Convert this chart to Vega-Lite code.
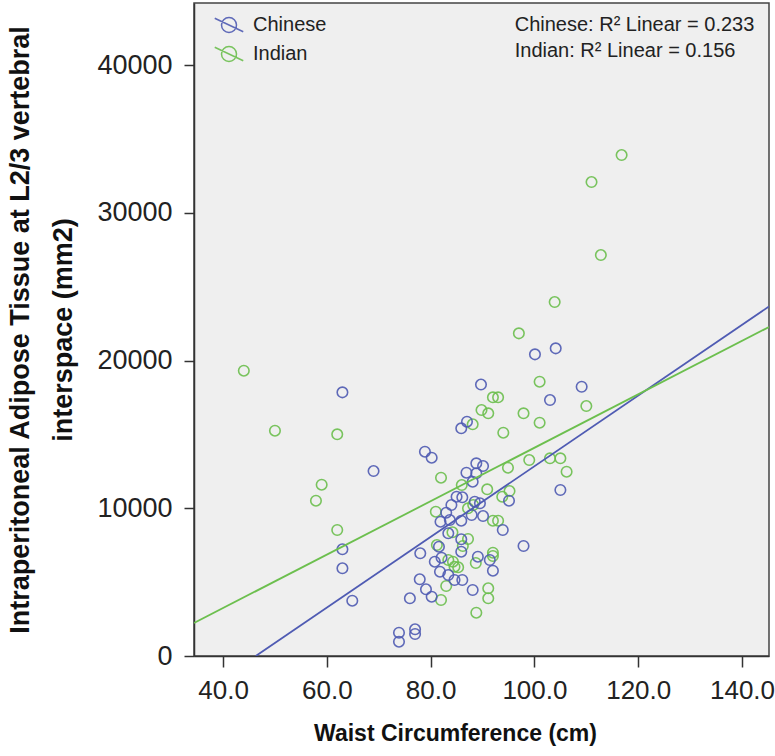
{
  "$schema": "https://vega.github.io/schema/vega-lite/v6.json",
  "autosize": {"type": "none"},
  "width": 575,
  "height": 653,
  "padding": {"left": 194, "top": 3, "right": 6, "bottom": 100},
  "background": "white",
  "config": {
    "font": "Liberation Sans",
    "view": {"fill": "#efefef", "stroke": "#444444", "strokeWidth": 1.5},
    "axis": {"grid": false, "domainColor": "#333333", "tickColor": "#333333", "domainWidth": 1.5, "tickWidth": 1.5, "labelColor": "#222222", "titleColor": "#111111", "labelFont": "Liberation Sans", "titleFont": "Liberation Sans"}
  },
  "datasets": {
    "points": [
      {"group": "Indian", "waist": 44.0, "iat": 19310},
      {"group": "Indian", "waist": 50.0, "iat": 15249},
      {"group": "Indian", "waist": 62.0, "iat": 15005},
      {"group": "Indian", "waist": 59.0, "iat": 11594},
      {"group": "Indian", "waist": 57.9, "iat": 10511},
      {"group": "Indian", "waist": 62.0, "iat": 8528},
      {"group": "Indian", "waist": 82.0, "iat": 12067},
      {"group": "Indian", "waist": 86.0, "iat": 11573},
      {"group": "Indian", "waist": 88.1, "iat": 15682},
      {"group": "Indian", "waist": 89.8, "iat": 16649},
      {"group": "Indian", "waist": 91.1, "iat": 16426},
      {"group": "Indian", "waist": 81.0, "iat": 9766},
      {"group": "Indian", "waist": 84.2, "iat": 8372},
      {"group": "Indian", "waist": 87.2, "iat": 7919},
      {"group": "Indian", "waist": 81.2, "iat": 7512},
      {"group": "Indian", "waist": 83.0, "iat": 4738},
      {"group": "Indian", "waist": 82.0, "iat": 3790},
      {"group": "Indian", "waist": 88.8, "iat": 2931},
      {"group": "Indian", "waist": 88.7, "iat": 6294},
      {"group": "Indian", "waist": 97.0, "iat": 21840},
      {"group": "Indian", "waist": 101.0, "iat": 18565},
      {"group": "Indian", "waist": 92.0, "iat": 17509},
      {"group": "Indian", "waist": 93.0, "iat": 17509},
      {"group": "Indian", "waist": 97.9, "iat": 16426},
      {"group": "Indian", "waist": 101.0, "iat": 15790},
      {"group": "Indian", "waist": 94.0, "iat": 15113},
      {"group": "Indian", "waist": 110.0, "iat": 16920},
      {"group": "Indian", "waist": 94.9, "iat": 12744},
      {"group": "Indian", "waist": 99.0, "iat": 13265},
      {"group": "Indian", "waist": 103.0, "iat": 13380},
      {"group": "Indian", "waist": 105.0, "iat": 13380},
      {"group": "Indian", "waist": 106.2, "iat": 12473},
      {"group": "Indian", "waist": 90.9, "iat": 11282},
      {"group": "Indian", "waist": 95.2, "iat": 11167},
      {"group": "Indian", "waist": 93.8, "iat": 10782},
      {"group": "Indian", "waist": 87.2, "iat": 9996},
      {"group": "Indian", "waist": 88.2, "iat": 10220},
      {"group": "Indian", "waist": 92.0, "iat": 9157},
      {"group": "Indian", "waist": 93.0, "iat": 9157},
      {"group": "Indian", "waist": 92.0, "iat": 6991},
      {"group": "Indian", "waist": 92.0, "iat": 6768},
      {"group": "Indian", "waist": 83.4, "iat": 6497},
      {"group": "Indian", "waist": 84.3, "iat": 6382},
      {"group": "Indian", "waist": 84.6, "iat": 6044},
      {"group": "Indian", "waist": 85.3, "iat": 6003},
      {"group": "Indian", "waist": 91.1, "iat": 4582},
      {"group": "Indian", "waist": 91.1, "iat": 3905},
      {"group": "Indian", "waist": 86.2, "iat": 7445},
      {"group": "Indian", "waist": 111.0, "iat": 32081},
      {"group": "Indian", "waist": 112.8, "iat": 27140},
      {"group": "Indian", "waist": 116.8, "iat": 33909},
      {"group": "Indian", "waist": 103.9, "iat": 23959},
      {"group": "Chinese", "waist": 63.0, "iat": 17847},
      {"group": "Chinese", "waist": 69.0, "iat": 12521},
      {"group": "Chinese", "waist": 63.0, "iat": 7222},
      {"group": "Chinese", "waist": 63.0, "iat": 5936},
      {"group": "Chinese", "waist": 64.9, "iat": 3743},
      {"group": "Chinese", "waist": 73.9, "iat": 1577},
      {"group": "Chinese", "waist": 73.9, "iat": 968},
      {"group": "Chinese", "waist": 77.0, "iat": 1807},
      {"group": "Chinese", "waist": 77.0, "iat": 1489},
      {"group": "Chinese", "waist": 76.0, "iat": 3905},
      {"group": "Chinese", "waist": 77.9, "iat": 5191},
      {"group": "Chinese", "waist": 79.1, "iat": 4514},
      {"group": "Chinese", "waist": 80.2, "iat": 4013},
      {"group": "Chinese", "waist": 78.0, "iat": 6951},
      {"group": "Chinese", "waist": 78.9, "iat": 13827},
      {"group": "Chinese", "waist": 80.2, "iat": 13421},
      {"group": "Chinese", "waist": 85.9, "iat": 15411},
      {"group": "Chinese", "waist": 87.0, "iat": 15858},
      {"group": "Chinese", "waist": 89.7, "iat": 18375},
      {"group": "Chinese", "waist": 88.8, "iat": 13042},
      {"group": "Chinese", "waist": 90.1, "iat": 12859},
      {"group": "Chinese", "waist": 86.9, "iat": 12406},
      {"group": "Chinese", "waist": 88.8, "iat": 12365},
      {"group": "Chinese", "waist": 88.1, "iat": 11797},
      {"group": "Chinese", "waist": 104.1, "iat": 20825},
      {"group": "Chinese", "waist": 100.1, "iat": 20419},
      {"group": "Chinese", "waist": 109.1, "iat": 18226},
      {"group": "Chinese", "waist": 103.0, "iat": 17326},
      {"group": "Chinese", "waist": 105.0, "iat": 11235},
      {"group": "Chinese", "waist": 95.1, "iat": 10511},
      {"group": "Chinese", "waist": 85.0, "iat": 10782},
      {"group": "Chinese", "waist": 86.1, "iat": 10741},
      {"group": "Chinese", "waist": 84.0, "iat": 10220},
      {"group": "Chinese", "waist": 88.5, "iat": 10443},
      {"group": "Chinese", "waist": 89.5, "iat": 10335},
      {"group": "Chinese", "waist": 83.0, "iat": 9699},
      {"group": "Chinese", "waist": 81.9, "iat": 9089},
      {"group": "Chinese", "waist": 83.7, "iat": 9204},
      {"group": "Chinese", "waist": 85.9, "iat": 9157},
      {"group": "Chinese", "waist": 87.9, "iat": 9543},
      {"group": "Chinese", "waist": 90.1, "iat": 9475},
      {"group": "Chinese", "waist": 93.9, "iat": 8528},
      {"group": "Chinese", "waist": 83.4, "iat": 8304},
      {"group": "Chinese", "waist": 85.9, "iat": 7898},
      {"group": "Chinese", "waist": 97.9, "iat": 7445},
      {"group": "Chinese", "waist": 81.6, "iat": 7397},
      {"group": "Chinese", "waist": 85.9, "iat": 7059},
      {"group": "Chinese", "waist": 80.8, "iat": 6382},
      {"group": "Chinese", "waist": 82.1, "iat": 6653},
      {"group": "Chinese", "waist": 81.8, "iat": 5705},
      {"group": "Chinese", "waist": 83.4, "iat": 5482},
      {"group": "Chinese", "waist": 89.1, "iat": 6721},
      {"group": "Chinese", "waist": 92.0, "iat": 5773},
      {"group": "Chinese", "waist": 91.4, "iat": 6497},
      {"group": "Chinese", "waist": 86.1, "iat": 5144},
      {"group": "Chinese", "waist": 84.6, "iat": 5144},
      {"group": "Chinese", "waist": 88.1, "iat": 4467}
    ],
    "fits": [
      {"group": "Chinese", "waist": 46.3, "iat": 0},
      {"group": "Chinese", "waist": 145.2, "iat": 23657},
      {"group": "Indian", "waist": 34.4, "iat": 2233},
      {"group": "Indian", "waist": 145.2, "iat": 22267}
    ],
    "notes": [
      {"label": "Chinese: R² Linear = 0.233", "waist": 96.2, "iat": 42706},
      {"label": "Indian: R² Linear = 0.156", "waist": 96.2, "iat": 40946}
    ]
  },
  "encoding": {
    "x": {
      "field": "waist", "type": "quantitative",
      "scale": {"domain": [34.4, 145.2], "nice": false, "zero": false},
      "axis": {"values": [40, 60, 80, 100, 120, 140], "format": ".1f", "title": "Waist Circumference (cm)", "labelFontSize": 26, "titleFontSize": 23, "titleFontWeight": "bold", "tickSize": 11, "labelPadding": 10, "titlePadding": 19, "titleX": 261}
    },
    "y": {
      "field": "iat", "type": "quantitative",
      "scale": {"domain": [0, 44200], "nice": false, "zero": true},
      "axis": {"values": [0, 10000, 20000, 30000, 40000], "format": "d", "title": ["Intraperitoneal Adipose Tissue at L2/3 vertebral", "interspace (mm2)"], "labelFontSize": 27, "titleFontSize": 27, "titleFontWeight": "bold", "titleLineHeight": 43, "tickSize": 10, "labelPadding": 12, "titlePadding": 19}
    }
  },
  "layer": [
    {
      "data": {"name": "points"},
      "mark": {"type": "point", "filled": false, "size": 110, "strokeWidth": 1.6, "opacity": 0.9},
      "encoding": {
        "color": {
          "field": "group", "type": "nominal",
          "scale": {"domain": ["Chinese", "Indian"], "range": ["#4f5bb3", "#6cbf4e"]},
          "legend": {
            "title": null, "orient": "none", "legendX": 25, "legendY": 12,
            "labelFontSize": 20, "labelColor": "#222222", "labelOffset": 14,
            "symbolType": "M-1,0A1,1 0 1,1 1,0A1,1 0 1,1 -1,0M-1.9,-0.9L1.9,0.9",
            "symbolSize": 225, "symbolStrokeWidth": 1.5, "rowPadding": 7
          }
        }
      }
    },
    {
      "data": {"name": "fits"},
      "mark": {"type": "line", "strokeWidth": 1.8, "clip": true},
      "encoding": {
        "color": {"field": "group", "type": "nominal", "legend": null},
        "detail": {"field": "group"}
      }
    },
    {
      "data": {"name": "notes"},
      "mark": {"type": "text", "align": "left", "baseline": "middle", "fontSize": 20, "color": "#222222"},
      "encoding": {"text": {"field": "label"}}
    }
  ]
}
